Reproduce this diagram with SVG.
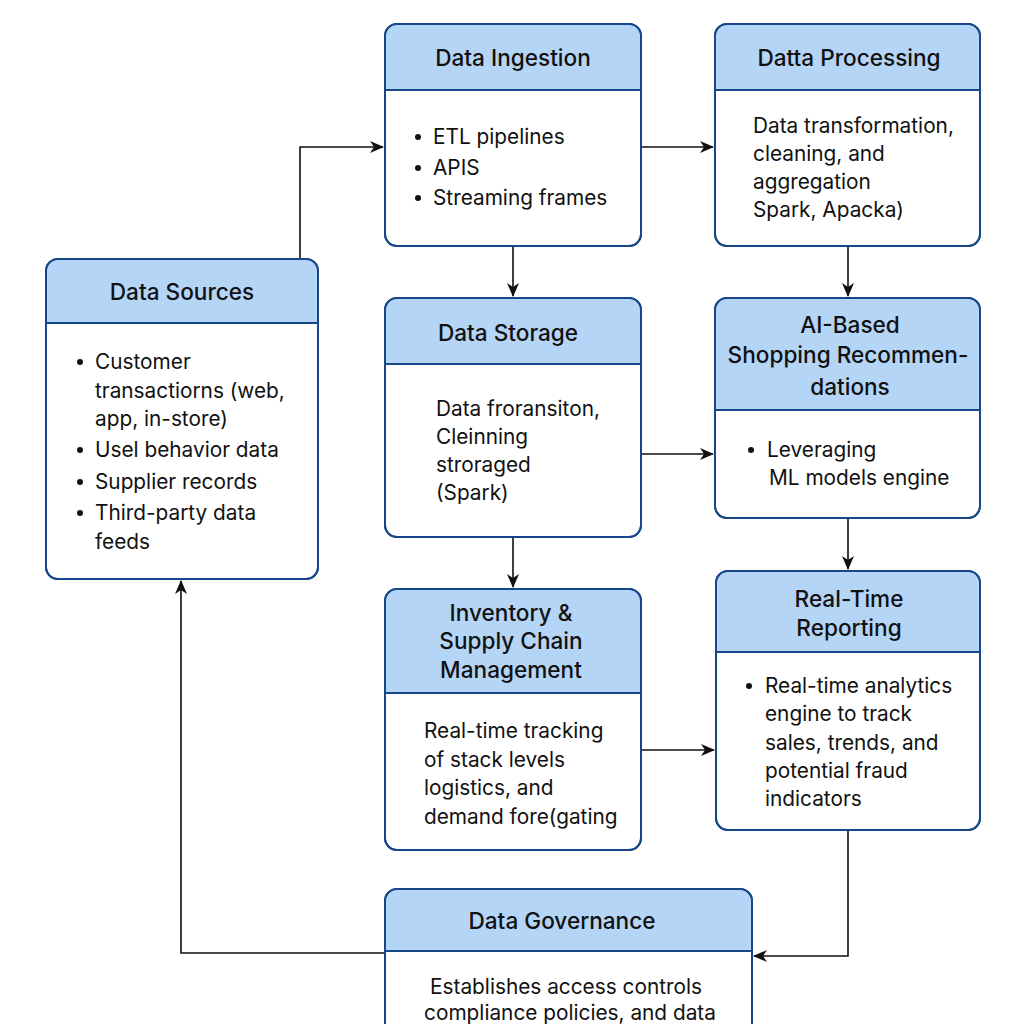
<svg xmlns="http://www.w3.org/2000/svg" width="1024" height="1024" viewBox="0 0 1024 1024">
<style>
.box{fill:#ffffff;stroke:#17478a;stroke-width:2}
.hdr{fill:#b5d5f7}
.sep{stroke:#17478a;stroke-width:2}
.t{font-family:Inter,Roboto,"Liberation Sans",sans-serif;font-size:22.6px;font-weight:500;fill:#111;text-anchor:middle}
.b{font-family:Inter,Roboto,"Liberation Sans",sans-serif;font-size:20.8px;fill:#111}
.c{text-anchor:middle}
.dot{fill:#111}
.conn{fill:none;stroke:#111;stroke-width:1.6}
</style>
<defs>
<marker id="ah" markerWidth="14" markerHeight="12" refX="13" refY="6" orient="auto" markerUnits="userSpaceOnUse">
<path d="M0,0 L14,6 L0,12 L4,6 Z" fill="#111"/>
</marker>
</defs>
<rect width="1024" height="1024" fill="#ffffff"/>

<g id="connectors">
<path class="conn" d="M300,259 V147 H383" marker-end="url(#ah)"/>
<path class="conn" d="M641,147 H713" marker-end="url(#ah)"/>
<path class="conn" d="M513,246 V296" marker-end="url(#ah)"/>
<path class="conn" d="M848,246 V296" marker-end="url(#ah)"/>
<path class="conn" d="M641,454 H713" marker-end="url(#ah)"/>
<path class="conn" d="M513,537 V587" marker-end="url(#ah)"/>
<path class="conn" d="M848,518 V569" marker-end="url(#ah)"/>
<path class="conn" d="M641,750 H714" marker-end="url(#ah)"/>
<path class="conn" d="M848,830 V956 H754" marker-end="url(#ah)"/>
<path class="conn" d="M385,953 H181 V581" marker-end="url(#ah)"/>
</g>

<g id="data-sources">
<rect class="box" x="46" y="259" width="272" height="320" rx="12"/>
<path class="hdr" d="M58,260 H306 A11,11 0 0 1 317,271 V323 H47 V271 A11,11 0 0 1 58,260 Z"/>
<rect x="46" y="259" width="272" height="320" rx="12" fill="none" stroke="#17478a" stroke-width="2"/>
<line class="sep" x1="46" y1="323" x2="318" y2="323"/>
<text class="t" x="182" y="300">Data Sources</text>
<circle class="dot" cx="80" cy="362" r="3"/><text class="b" x="95" y="369">Customer</text>
<text class="b" x="95" y="398">transactiorns (web,</text>
<text class="b" x="95" y="426">app, in-store)</text>
<circle class="dot" cx="80" cy="450" r="3"/><text class="b" x="95" y="457">Usel behavior data</text>
<circle class="dot" cx="80" cy="482" r="3"/><text class="b" x="95" y="489">Supplier records</text>
<circle class="dot" cx="80" cy="513" r="3"/><text class="b" x="95" y="520">Third-party data</text>
<text class="b" x="95" y="549">feeds</text>
</g>

<g id="data-ingestion">
<rect class="box" x="385" y="24" width="256" height="222" rx="12"/>
<path class="hdr" d="M397,25 H629 A11,11 0 0 1 640,36 V90 H386 V36 A11,11 0 0 1 397,25 Z"/>
<rect x="385" y="24" width="256" height="222" rx="12" fill="none" stroke="#17478a" stroke-width="2"/>
<line class="sep" x1="385" y1="90" x2="641" y2="90"/>
<text class="t" x="513" y="66">Data Ingestion</text>
<circle class="dot" cx="418" cy="137" r="3"/><text class="b" x="433" y="144">ETL pipelines</text>
<circle class="dot" cx="418" cy="168" r="3"/><text class="b" x="433" y="175">APIS</text>
<circle class="dot" cx="418" cy="198" r="3"/><text class="b" x="433" y="205">Streaming frames</text>
</g>

<g id="data-processing">
<rect class="box" x="715" y="24" width="265" height="222" rx="12"/>
<path class="hdr" d="M727,25 H968 A11,11 0 0 1 979,36 V90 H716 V36 A11,11 0 0 1 727,25 Z"/>
<rect x="715" y="24" width="265" height="222" rx="12" fill="none" stroke="#17478a" stroke-width="2"/>
<line class="sep" x1="715" y1="90" x2="980" y2="90"/>
<text class="t" x="849" y="66">Datta Processing</text>
<text class="b" x="753" y="133">Data transformation,</text>
<text class="b" x="753" y="161">cleaning, and</text>
<text class="b" x="753" y="189">aggregation</text>
<text class="b" x="753" y="217">Spark, Apacka)</text>
</g>

<g id="data-storage">
<rect class="box" x="385" y="298" width="256" height="239" rx="12"/>
<path class="hdr" d="M397,299 H629 A11,11 0 0 1 640,310 V364 H386 V310 A11,11 0 0 1 397,299 Z"/>
<rect x="385" y="298" width="256" height="239" rx="12" fill="none" stroke="#17478a" stroke-width="2"/>
<line class="sep" x1="385" y1="364" x2="641" y2="364"/>
<text class="t" x="508" y="341">Data Storage</text>
<text class="b" x="436" y="416">Data froransiton,</text>
<text class="b" x="436" y="444">Cleinning</text>
<text class="b" x="436" y="472">stroraged</text>
<text class="b" x="436" y="500">(Spark)</text>
</g>

<g id="ai-recommendations">
<rect class="box" x="715" y="298" width="265" height="220" rx="12"/>
<path class="hdr" d="M727,299 H968 A11,11 0 0 1 979,310 V410 H716 V310 A11,11 0 0 1 727,299 Z"/>
<rect x="715" y="298" width="265" height="220" rx="12" fill="none" stroke="#17478a" stroke-width="2"/>
<line class="sep" x1="715" y1="410" x2="980" y2="410"/>
<text class="t" x="850" y="333">AI-Based</text>
<text class="t" x="848" y="363">Shopping Recommen-</text>
<text class="t" x="850" y="395">dations</text>
<circle class="dot" cx="751" cy="450" r="3"/><text class="b" x="767" y="457">Leveraging</text>
<text class="b" x="769" y="485">ML models engine</text>
</g>

<g id="inventory">
<rect class="box" x="385" y="589" width="256" height="261" rx="12"/>
<path class="hdr" d="M397,590 H629 A11,11 0 0 1 640,601 V693 H386 V601 A11,11 0 0 1 397,590 Z"/>
<rect x="385" y="589" width="256" height="261" rx="12" fill="none" stroke="#17478a" stroke-width="2"/>
<line class="sep" x1="385" y1="693" x2="641" y2="693"/>
<text class="t" x="511" y="621">Inventory &amp;</text>
<text class="t" x="511" y="649">Supply Chain</text>
<text class="t" x="511" y="678">Management</text>
<text class="b" x="424" y="738">Real-time tracking</text>
<text class="b" x="424" y="767">of stack levels</text>
<text class="b" x="424" y="795">logistics, and</text>
<text class="b" x="424" y="824">demand fore(gating</text>
</g>

<g id="real-time-reporting">
<rect class="box" x="716" y="571" width="264" height="259" rx="12"/>
<path class="hdr" d="M728,572 H968 A11,11 0 0 1 979,583 V652 H717 V583 A11,11 0 0 1 728,572 Z"/>
<rect x="716" y="571" width="264" height="259" rx="12" fill="none" stroke="#17478a" stroke-width="2"/>
<line class="sep" x1="716" y1="652" x2="980" y2="652"/>
<text class="t" x="849" y="607">Real-Time</text>
<text class="t" x="849" y="636">Reporting</text>
<circle class="dot" cx="749" cy="686" r="3"/><text class="b" x="765" y="693">Real-time analytics</text>
<text class="b" x="765" y="721">engine to track</text>
<text class="b" x="765" y="750">sales, trends, and</text>
<text class="b" x="765" y="778">potential fraud</text>
<text class="b" x="765" y="806">indicators</text>
</g>

<g id="data-governance">
<rect class="box" x="385" y="889" width="367" height="200" rx="12"/>
<path class="hdr" d="M397,890 H740 A11,11 0 0 1 751,901 V951 H386 V901 A11,11 0 0 1 397,890 Z"/>
<rect x="385" y="889" width="367" height="200" rx="12" fill="none" stroke="#17478a" stroke-width="2"/>
<line class="sep" x1="385" y1="951" x2="752" y2="951"/>
<text class="t" x="562" y="929">Data Governance</text>
<text class="b c" x="566" y="994">Establishes access controls</text>
<text class="b c" x="570" y="1020">compliance policies, and data</text>
</g>
</svg>
